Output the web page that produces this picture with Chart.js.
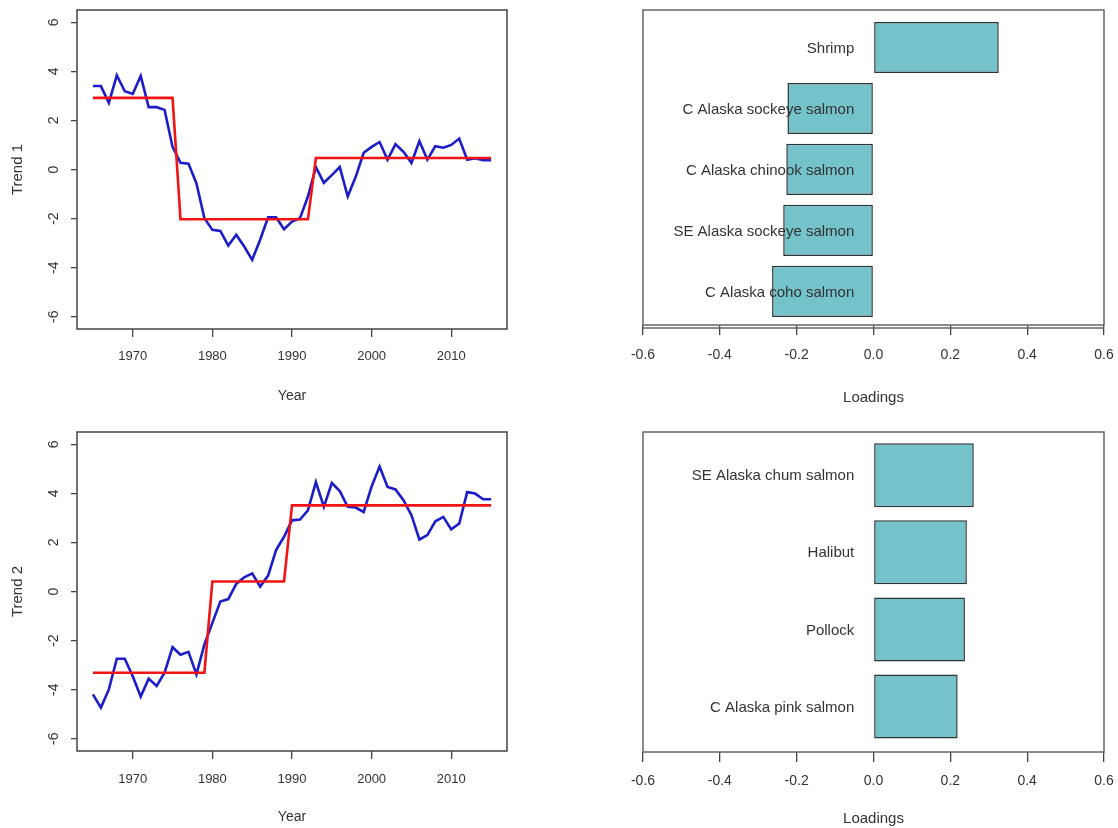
<!DOCTYPE html>
<html lang="en">
<head>
  <meta charset="UTF-8" />
  <title>Common trends and loadings</title>
  <script src="https://cdn.jsdelivr.net/npm/chart.js"></script>
  <style>
    body { margin: 0; background: #fff; }
    #panels { position: relative; width: 1118px; height: 828px; }
    #panels canvas { position: absolute; }
  </style>
</head>
<body>
  <div id="panels">
    <canvas id="trend1" width="559" height="414" style="left:0;top:0"></canvas>
    <canvas id="load1" width="559" height="414" style="left:559px;top:0"></canvas>
    <canvas id="trend2" width="559" height="414" style="left:0;top:414px"></canvas>
    <canvas id="load2" width="559" height="414" style="left:559px;top:414px"></canvas>
  </div>

  <script>
    const years = [1965, 1966, 1967, 1968, 1969, 1970, 1971, 1972, 1973, 1974,
      1975, 1976, 1977, 1978, 1979, 1980, 1981, 1982, 1983, 1984,
      1985, 1986, 1987, 1988, 1989, 1990, 1991, 1992, 1993, 1994,
      1995, 1996, 1997, 1998, 1999, 2000, 2001, 2002, 2003, 2004,
      2005, 2006, 2007, 2008, 2009, 2010, 2011, 2012, 2013, 2014, 2015];

    const trend1 = [3.4, 3.4, 2.72, 3.84, 3.19, 3.08, 3.81, 2.54, 2.54, 2.43,
      0.92, 0.27, 0.24, -0.57, -1.99, -2.46, -2.5, -3.1, -2.66, -3.14,
      -3.68, -2.86, -1.95, -1.95, -2.43, -2.12, -1.99, -1.1, 0.1, -0.54,
      -0.23, 0.1, -1.1, -0.3, 0.68, 0.92, 1.12, 0.4, 1.03, 0.72,
      0.27, 1.16, 0.4, 0.95, 0.89, 1.0, 1.26, 0.4, 0.46, 0.38, 0.38];

    const trend1Fit = [2.92, 2.92, 2.92, 2.92, 2.92, 2.92, 2.92, 2.92, 2.92, 2.92,
      2.92, -2.03, -2.03, -2.03, -2.03, -2.03, -2.03, -2.03, -2.03, -2.03,
      -2.03, -2.03, -2.03, -2.03, -2.03, -2.03, -2.03, -2.03, 0.47, 0.47,
      0.47, 0.47, 0.47, 0.47, 0.47, 0.47, 0.47, 0.47, 0.47, 0.47,
      0.47, 0.47, 0.47, 0.47, 0.47, 0.47, 0.47, 0.47, 0.47, 0.47, 0.47];

    const trend2 = [-4.19, -4.73, -3.99, -2.74, -2.74, -3.45, -4.28, -3.55, -3.85, -3.31,
      -2.27, -2.58, -2.46, -3.38, -2.16, -1.28, -0.41, -0.31, 0.31, 0.58,
      0.74, 0.2, 0.65, 1.69, 2.23, 2.9, 2.93, 3.31, 4.46, 3.45,
      4.42, 4.09, 3.45, 3.42, 3.24, 4.28, 5.09, 4.26, 4.16, 3.72,
      3.11, 2.12, 2.3, 2.86, 3.04, 2.53, 2.77, 4.05, 3.99, 3.76, 3.76];

    const trend2Fit = [-3.31, -3.31, -3.31, -3.31, -3.31, -3.31, -3.31, -3.31, -3.31, -3.31,
      -3.31, -3.31, -3.31, -3.31, -3.31, 0.41, 0.41, 0.41, 0.41, 0.41,
      0.41, 0.41, 0.41, 0.41, 0.41, 3.51, 3.51, 3.51, 3.51, 3.51,
      3.51, 3.51, 3.51, 3.51, 3.51, 3.51, 3.51, 3.51, 3.51, 3.51,
      3.51, 3.51, 3.51, 3.51, 3.51, 3.51, 3.51, 3.51, 3.51, 3.51, 3.51];

    const species1 = ['Shrimp', 'C Alaska sockeye salmon', 'C Alaska chinook salmon',
      'SE Alaska sockeye salmon', 'C Alaska coho salmon'];
    const loadings1 = [0.326, -0.224, -0.227, -0.235, -0.264];

    const species2 = ['SE Alaska chum salmon', 'Halibut', 'Pollock', 'C Alaska pink salmon'];
    const loadings2 = [0.261, 0.243, 0.238, 0.219];

    Chart.defaults.font.family = '"Liberation Sans", Arial, sans-serif';
    Chart.defaults.color = '#333';

    // box around the plotting region, plus an optional detached axis line below it
    const framePlugin = {
      id: 'frame',
      afterDraw(chart, args, opts) {
        const { ctx, chartArea: a } = chart;
        ctx.save();
        ctx.strokeStyle = opts.color || '#444';
        ctx.lineWidth = opts.width || 1.5;
        ctx.strokeRect(a.left, a.top, a.right - a.left, a.bottom - a.top);
        if (opts.axisGap) {
          ctx.beginPath();
          ctx.moveTo(a.left, a.bottom + opts.axisGap);
          ctx.lineTo(a.right, a.bottom + opts.axisGap);
          ctx.stroke();
        }
        ctx.restore();
      }
    };

    // y tick labels written sideways, like base R graphics
    const sideTicks = {
      id: 'sideTicks',
      afterDraw(chart) {
        const { ctx } = chart;
        const s = chart.scales.y;
        ctx.save();
        ctx.fillStyle = '#333';
        ctx.font = '14px "Liberation Sans", Arial, sans-serif';
        ctx.textAlign = 'center';
        ctx.textBaseline = 'middle';
        s.ticks.forEach(t => {
          ctx.save();
          ctx.translate(54, s.getPixelForValue(t.value));
          ctx.rotate(-Math.PI / 2);
          ctx.fillText(String(t.value), 0, 0);
          ctx.restore();
        });
        ctx.restore();
      }
    };

    // species names right-aligned just left of zero, over the bars
    const barNames = {
      id: 'barNames',
      afterDatasetsDraw(chart) {
        const { ctx } = chart;
        const x = chart.scales.x.getPixelForValue(-0.05);
        ctx.save();
        ctx.fillStyle = '#333';
        ctx.font = '15px "Liberation Sans", Arial, sans-serif';
        ctx.textAlign = 'right';
        ctx.textBaseline = 'middle';
        chart.data.labels.forEach((name, i) => {
          ctx.fillText(name, x, chart.scales.y.getPixelForValue(i) + 1);
        });
        ctx.restore();
      }
    };

    function trendChart(id, title, values, fit, box) {
      const pts = arr => arr.map((v, i) => ({ x: years[i], y: v }));
      return new Chart(document.getElementById(id), {
        type: 'line',
        data: {
          datasets: [
            { data: pts(fit), borderColor: '#f01414', borderWidth: 2.6 },
            { data: pts(values), borderColor: '#1c1cc8', borderWidth: 2.6 }
          ]
        },
        options: {
          responsive: false,
          animation: false,
          elements: { point: { radius: 0 }, line: { tension: 0 } },
          layout: { padding: { left: 0, top: box.top, right: 52, bottom: 0 } },
          plugins: {
            legend: { display: false },
            tooltip: { enabled: false },
            frame: { color: '#444', width: 1.5 }
          },
          scales: {
            x: {
              type: 'linear', min: 1963, max: 2017,
              ticks: {
                stepSize: 10, includeBounds: false, padding: box.tickPad,
                font: { size: 13 }, callback: v => String(v)
              },
              grid: { drawOnChartArea: false, tickLength: 8, color: '#444', lineWidth: 1.3 },
              border: { display: false },
              title: { display: true, text: 'Year', font: { size: 14 }, padding: { top: 0, bottom: box.titlePad } },
              afterFit: s => { s.height = box.axisH; }
            },
            y: {
              min: -6.5, max: 6.5,
              ticks: { stepSize: 2, includeBounds: false, display: false },
              grid: { drawOnChartArea: false, tickLength: 6, color: '#444', lineWidth: 1.3 },
              border: { display: false },
              title: { display: true, text: title, font: { size: 15 }, padding: { top: 9, bottom: 0 } },
              afterFit: s => { s.width = 77; }
            }
          }
        },
        plugins: [framePlugin, sideTicks]
      });
    }

    // bars sit on a numeric row axis (0 = top row) so the space above the
    // first bar and below the last one can be set like barplot() does
    function loadingChart(id, names, values, box) {
      return new Chart(document.getElementById(id), {
        type: 'bar',
        data: {
          labels: names,
          datasets: [{
            data: values.map((v, i) => ({ x: v, y: i })),
            backgroundColor: '#74c2ca',
            borderColor: '#2d3436',
            borderWidth: 1.5,
            borderSkipped: false,
            barPercentage: box.barPct,
            categoryPercentage: 1.0
          }]
        },
        options: {
          indexAxis: 'y',
          responsive: false,
          animation: false,
          layout: { padding: { left: 84, top: box.top, right: 14, bottom: 0 } },
          plugins: {
            legend: { display: false },
            tooltip: { enabled: false },
            frame: { color: '#666', width: 1.5, axisGap: box.axisGap }
          },
          scales: {
            x: {
              min: -0.6, max: 0.6,
              ticks: {
                stepSize: 0.2, padding: box.tickPad, font: { size: 14 },
                callback: v => (Math.abs(v) < 1e-9 ? 0 : v).toFixed(1)
              },
              grid: { drawOnChartArea: false, tickLength: 10, color: '#444', lineWidth: 1.3 },
              border: { display: false },
              title: { display: true, text: 'Loadings', font: { size: 15 }, padding: { top: 0, bottom: box.titlePad } },
              // end labels may overhang; the layout padding already leaves room
              afterFit: s => { s.height = box.axisH; s.paddingLeft = 0; s.paddingRight = 0; }
            },
            y: {
              type: 'linear', display: false, reverse: true, offset: false,
              min: box.rowMin, max: box.rowMax,
              ticks: { stepSize: 1, includeBounds: false }
            }
          }
        },
        plugins: [framePlugin, barNames]
      });
    }

    trendChart('trend1', 'Trend 1', trend1, trend1Fit, { top: 10, axisH: 85, tickPad: 12, titlePad: 9 });
    trendChart('trend2', 'Trend 2', trend2, trend2Fit, { top: 18, axisH: 77, tickPad: 13, titlePad: 2 });
    loadingChart('load1', species1, loadings1,
      { top: 10, axisH: 89, tickPad: 12, titlePad: 7, axisGap: 3, rowMin: -0.615, rowMax: 4.55, barPct: 0.84 });
    loadingChart('load2', species2, loadings2,
      { top: 18, axisH: 76, tickPad: 11, titlePad: 0, axisGap: 0, rowMin: -0.56, rowMax: 3.59, barPct: 0.83 });
  </script>
</body>
</html>
